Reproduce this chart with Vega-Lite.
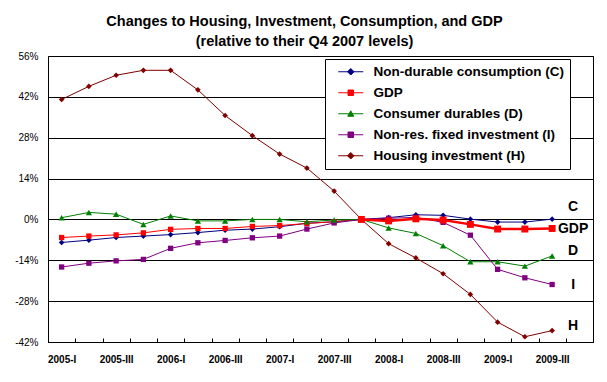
{
  "$schema": "https://vega.github.io/schema/vega-lite/v6.json",
  "width": 545,
  "height": 286,
  "autosize": "none",
  "padding": {"left": 48, "top": 56, "right": 14, "bottom": 40},
  "background": "white",
  "config": {"font": "Liberation Sans", "view": {"stroke": "black", "strokeWidth": 1}},
  "title": {
    "text": ["Changes to Housing, Investment, Consumption, and GDP", "(relative to their Q4 2007 levels)"],
    "fontSize": 14.5, "fontWeight": "bold", "color": "black", "lineHeight": 20,
    "anchor": "middle", "dx": -16, "offset": 2
  },
  "datasets": {
    "main": [
      {"q": "2005-I", "C": -7.9, "GDP": -6.2, "D": 0.6, "I": -16.3, "H": 41.1},
      {"q": "2005-II", "C": -7.1, "GDP": -5.7, "D": 2.4, "I": -15.0, "H": 45.6},
      {"q": "2005-III", "C": -6.2, "GDP": -5.3, "D": 1.8, "I": -14.2, "H": 49.4},
      {"q": "2005-IV", "C": -5.7, "GDP": -4.6, "D": -1.7, "I": -13.7, "H": 51.1},
      {"q": "2006-I", "C": -5.2, "GDP": -3.4, "D": 1.2, "I": -9.9, "H": 51.1},
      {"q": "2006-II", "C": -4.5, "GDP": -3.1, "D": -0.5, "I": -8.0, "H": 44.4},
      {"q": "2006-III", "C": -3.7, "GDP": -3.1, "D": -0.5, "I": -7.2, "H": 35.6},
      {"q": "2006-IV", "C": -3.3, "GDP": -2.4, "D": 0.0, "I": -6.3, "H": 28.7},
      {"q": "2007-I", "C": -2.5, "GDP": -2.1, "D": 0.0, "I": -5.7, "H": 22.4},
      {"q": "2007-II", "C": -1.3, "GDP": -1.4, "D": -0.8, "I": -3.3, "H": 17.6},
      {"q": "2007-III", "C": -0.8, "GDP": -0.8, "D": -0.2, "I": -1.2, "H": 9.7},
      {"q": "2007-IV", "C": 0.0, "GDP": 0.0, "D": 0.0, "I": 0.0, "H": 0.0},
      {"q": "2008-I", "C": 0.6, "GDP": -0.5, "D": -2.9, "I": 0.4, "H": -8.3},
      {"q": "2008-II", "C": 1.6, "GDP": 0.2, "D": -4.8, "I": 0.7, "H": -13.2},
      {"q": "2008-III", "C": 1.4, "GDP": -0.2, "D": -9.0, "I": -1.0, "H": -18.6},
      {"q": "2008-IV", "C": 0.1, "GDP": -1.7, "D": -14.5, "I": -5.4, "H": -25.7},
      {"q": "2009-I", "C": -0.9, "GDP": -3.3, "D": -14.5, "I": -17.1, "H": -35.2},
      {"q": "2009-II", "C": -0.9, "GDP": -3.3, "D": -16.0, "I": -20.0, "H": -40.2},
      {"q": "2009-III", "C": 0.1, "GDP": -3.1, "D": -12.5, "I": -22.3, "H": -38.1}
    ],
    "labels": [
      {"q": "2009-III", "lab": "C", "lv": 4.1},
      {"q": "2009-III", "lab": "GDP", "lv": -3.4},
      {"q": "2009-III", "lab": "D", "lv": -10.8},
      {"q": "2009-III", "lab": "I", "lv": -22.3},
      {"q": "2009-III", "lab": "H", "lv": -36.6}
    ]
  },
  "layer": [
    {
      "data": {"name": "main"},
      "transform": [
        {"fold": ["C", "GDP", "D", "I", "H"], "as": ["s", "v"]}
      ],
      "encoding": {
        "x": {
          "field": "q", "type": "ordinal", "sort": null, "bandPosition": 0.5,
          "scale": {"type": "band", "paddingInner": 0, "paddingOuter": 0,
            "domain": ["2005-I","2005-II","2005-III","2005-IV","2006-I","2006-II","2006-III","2006-IV","2007-I","2007-II","2007-III","2007-IV","2008-I","2008-II","2008-III","2008-IV","2009-I","2009-II","2009-III","2009-IV"]},
          "axis": {
            "title": null, "labelAngle": 0, "tickBand": "extent", "tickSize": -4, "tickColor": "black",
            "domainColor": "black", "labelFontSize": 10, "labelFontWeight": "bold", "labelColor": "black",
            "labelPadding": 16, "grid": false, "labelOverlap": false,
            "labelExpr": "(slice(datum.label,-2)=='-I' || slice(datum.label,-4)=='-III') ? datum.label : ''"
          }
        },
        "y": {
          "field": "v", "type": "quantitative",
          "scale": {"domain": [-42, 56], "nice": false, "zero": false},
          "axis": {
            "title": null, "values": [-42, -28, -14, 0, 14, 28, 42, 56], "grid": true, "gridColor": "black",
            "gridOpacity": 1, "ticks": false, "domain": false, "labelExpr": "datum.value + '%'",
            "labelFontSize": 10, "labelColor": "black", "labelPadding": 10
          }
        }
      },
      "layer": [
        {
          "mark": {"type": "line", "strokeWidth": 1},
          "encoding": {
            "color": {
              "field": "s", "type": "nominal",
              "scale": {"domain": ["C", "GDP", "D", "I", "H"], "range": ["#000080", "#FF0000", "#008000", "#800080", "#800000"]},
              "legend": {
                "title": null, "orient": "none", "legendX": 277, "legendY": 3,
                "fillColor": "white", "strokeColor": "black", "padding": 6,
                "labelFontSize": 13.5, "labelFontWeight": "bold", "labelColor": "black",
                "labelOffset": 29, "rowPadding": 6, "symbolSize": 100, "labelLimit": 300,
                "labelExpr": "datum.value == 'C' ? 'Non-durable consumption (C)' : datum.value == 'GDP' ? 'GDP' : datum.value == 'D' ? 'Consumer durables (D)' : datum.value == 'I' ? 'Non-res. fixed investment (I)' : 'Housing investment (H)'",
                "encode": {
                  "symbols": {
                    "update": {
                      "shape": {"signal": "datum.value == 'D' ? 'M0.1,0H5.1M2.6,-0.6L3.2,0.5H2Z' : ((datum.value == 'GDP' || datum.value == 'I') ? 'M0.1,0H5.1M2.05,-0.55H3.15V0.55H2.05Z' : 'M0.1,0H5.1M2.6,-0.65L3.25,0L2.6,0.65L1.95,0Z')"},
                      "size": {"value": 100},
                      "stroke": {"scale": "color", "field": "value"},
                      "fill": {"scale": "color", "field": "value"},
                      "strokeWidth": {"value": 1},
                      "opacity": {"value": 1}
                    }
                  }
                }
              }
            }
          }
        },
        {
          "transform": [{"filter": {"field": "s", "oneOf": ["C", "H"]}}],
          "mark": {"type": "point", "shape": "diamond", "filled": true, "opacity": 1, "size": 32},
          "encoding": {"color": {"field": "s", "type": "nominal", "legend": null}}
        },
        {
          "transform": [{"filter": {"field": "s", "oneOf": ["GDP", "I"]}}],
          "mark": {"type": "point", "shape": "square", "filled": true, "opacity": 1, "size": 28},
          "encoding": {"color": {"field": "s", "type": "nominal", "legend": null}}
        },
        {
          "transform": [{"filter": {"field": "s", "equal": "D"}}],
          "mark": {"type": "point", "shape": "triangle-up", "filled": true, "opacity": 1, "size": 40},
          "encoding": {"color": {"field": "s", "type": "nominal", "legend": null}}
        },
        {
          "transform": [{"filter": {"and": [{"field": "s", "equal": "GDP"}, {"field": "q", "oneOf": ["2007-IV","2008-I","2008-II","2008-III","2008-IV","2009-I","2009-II","2009-III"]}]}}],
          "mark": {"type": "line", "strokeWidth": 2.5, "color": "#FF0000"},
          "encoding": {"color": {"value": "#FF0000"}}
        },
        {
          "transform": [{"filter": {"and": [{"field": "s", "equal": "GDP"}, {"field": "q", "oneOf": ["2007-IV","2008-I","2008-II","2008-III","2008-IV","2009-I","2009-II","2009-III"]}]}}],
          "mark": {"type": "square", "filled": true, "opacity": 1, "size": 48, "color": "#FF0000"},
          "encoding": {"color": {"value": "#FF0000"}}
        }
      ]
    },
    {
      "data": {"name": "labels"},
      "mark": {"type": "text", "dx": 21, "fontSize": 14, "fontWeight": "bold", "color": "black", "align": "center", "baseline": "middle"},
      "encoding": {
        "x": {"field": "q", "type": "ordinal", "sort": null, "bandPosition": 0.5},
        "y": {"field": "lv", "type": "quantitative"},
        "text": {"field": "lab"}
      }
    }
  ]
}
